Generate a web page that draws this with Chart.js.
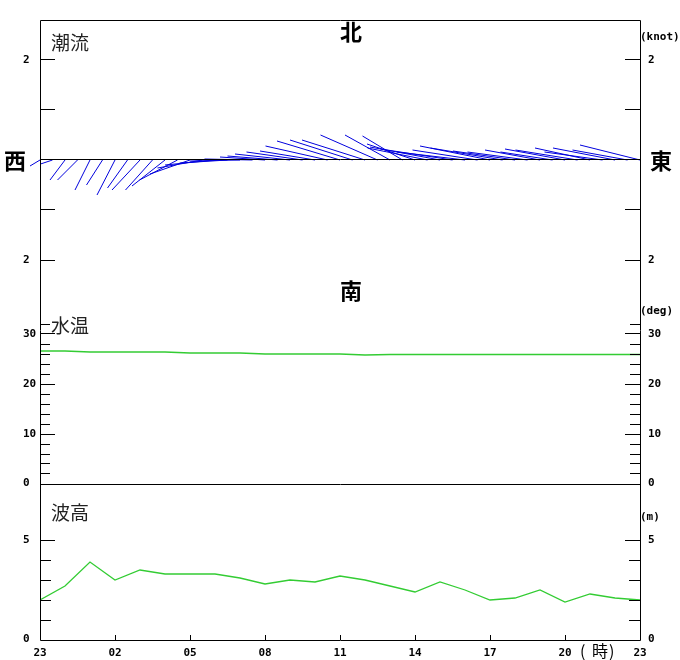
<!DOCTYPE html>
<html><head><meta charset="utf-8">
<script src="https://cdn.jsdelivr.net/npm/chart.js@4/dist/chart.umd.min.js"></script>
<style>html,body{margin:0;padding:0;background:#fff}#wrap{width:680px;height:660px}</style>
</head><body><div id="wrap"><canvas id="c" width="680" height="660"></canvas></div>
<script>
// ---- data ----
const hourLabels = ['23','00','01','02','03','04','05','06','07','08','09','10','11','12','13','14','15','16','17','18','19','20','21','22','23'];
const waveHeight = [2.0,2.7,3.9,3.0,3.5,3.3,3.3,3.3,3.1,2.8,3.0,2.9,3.2,3.0,2.7,2.4,2.9,2.5,2.0,2.1,2.5,1.9,2.3,2.1,2.0];
const waterTemp  = [26.6,26.6,26.4,26.4,26.4,26.4,26.2,26.2,26.2,26.0,26.0,26.0,26.0,25.8,25.9,25.9,25.9,25.9,25.9,25.9,25.9,25.9,25.9,25.9,25.9];
// tidal current every 30 minutes, east / north components (knot)
const currentEast  = [-0.20,-0.24,-0.30,-0.40,-0.30,-0.32,-0.36,-0.40,-0.56,-0.54,-0.66,-0.76,-0.80,-0.90,-1.00,-0.96,-1.00,-0.96,-0.90,-1.00,-1.10,-1.12,-1.10,-1.24,-1.26,-1.25,-1.26,-1.14,-0.90,-0.80,-0.96,-1.20,-1.40,-1.44,-1.36,-1.30,-1.40,-1.44,-1.24,-1.20,-1.10,-1.04,-1.20,-1.24,-1.10,-1.16,-1.24,-1.10,-1.20];
const currentNorth = [-0.12,-0.08,-0.40,-0.40,-0.60,-0.50,-0.70,-0.56,-0.60,-0.60,-0.52,-0.40,-0.28,-0.16,-0.10,-0.06,-0.02,0.02,0.06,0.08,0.12,0.16,0.18,0.28,0.38,0.40,0.40,0.50,0.50,0.48,0.32,0.24,0.26,0.22,0.16,0.20,0.28,0.24,0.18,0.16,0.20,0.16,0.22,0.20,0.24,0.16,0.24,0.20,0.30];
const xTickHours  = [0,3,6,9,12,15,18,21,24];
const xTickLabels = ['23','02','05','08','11','14','17','20','23'];
const currentTicks = [2,1,-1,-2];
const currentTickLabels = ['2','','','2'];
const tempTickLabels = ['0','10','20','30'];
const tempTickValues = [0,10,20,30];
const waveTickLabels = ['0','5'];
const waveTickValues = [0,5];

// ---- build datasets ----
const HOURS_PER_KNOT = 2; // keeps the sticks isotropic (50px per knot both ways)
const stickData = [];
currentEast.forEach((e, i) => {
  const t = i * 0.5;
  stickData.push({x: t, y: 0}, {x: t + e * HOURS_PER_KNOT, y: currentNorth[i]}, {x: t, y: null});
});
const tempData = waterTemp.map((v, i) => ({x: i, y: v}));
const waveData = waveHeight.map((v, i) => ({x: i, y: v}));

const MONO = 'bold 11px "DejaVu Sans Mono"';
const CJK = '"Noto Sans CJK JP"';

const frame = {
  id: 'frame',
  afterDatasetsDraw(chart) {
    const {ctx, chartArea: a, scales: {x, yCur, yTemp, yWave}} = chart;
    const c = v => Math.floor(v) + 0.5;
    ctx.save();
    ctx.strokeStyle = '#000'; ctx.lineWidth = 1;
    const line = (x1, y1, x2, y2) => { ctx.beginPath(); ctx.moveTo(x1, y1); ctx.lineTo(x2, y2); ctx.stroke(); };
    const L = c(a.left), R = c(a.right), T = c(a.top), B = c(a.bottom);
    line(L, T, R, T); line(L, T, L, B); line(R, T, R, B); line(L, B, R, B);
    line(L, c(yTemp.getPixelForValue(0)), R, c(yTemp.getPixelForValue(0)));
    line(L, c(yCur.getPixelForValue(0)), R, c(yCur.getPixelForValue(0)));
    const tick = (py, len) => { const y = c(py); line(a.left, y, a.left + len, y); line(a.right - len, y, a.right, y); };
    ctx.fillStyle = '#000';
    ctx.font = MONO; ctx.textBaseline = 'middle'; ctx.textAlign = 'left';
    const label = (py, s) => { if (!s) return; ctx.fillText(s, 23, py); ctx.fillText(s, 648, py); };
    // current
    currentTicks.forEach((v, i) => { const py = yCur.getPixelForValue(v); tick(py, 15); label(py, currentTickLabels[i]); });
    // temperature
    for (let v = 2; v <= 32; v += 2) tick(yTemp.getPixelForValue(v), v % 10 === 0 ? 15 : 10);
    tempTickValues.forEach((v, i) => label(yTemp.getPixelForValue(v) - (v === 0 ? 1 : 0), tempTickLabels[i]));
    // wave
    for (let v = 1; v <= 5; v++) tick(yWave.getPixelForValue(v), v === 5 ? 15 : 11);
    waveTickValues.forEach((v, i) => label(yWave.getPixelForValue(v) - (v === 0 ? 1 : 0), waveTickLabels[i]));
    // x ticks
    xTickHours.forEach((h, i) => {
      const px = c(x.getPixelForValue(h));
      if (i > 0 && i < xTickHours.length - 1) line(px, a.bottom - 5, px, a.bottom);
      ctx.textAlign = 'center';
      ctx.fillText(xTickLabels[i], x.getPixelForValue(h), 653);
    });
    // units
    ctx.textAlign = 'left';
    ctx.fillText('(knot)', 640, yCur.getPixelForValue(2) - 23);
    ctx.fillText('(deg)', 640, yTemp.getPixelForValue(30) - 23);
    ctx.fillText('(m)', 640, yWave.getPixelForValue(5) - 23);
    // compass
    ctx.font = 'bold 22px ' + CJK; ctx.textAlign = 'center';
    const mid = x.getPixelForValue(12) + 11;
    ctx.fillText('北', mid, 32);
    ctx.fillText('南', mid, 291);
    ctx.fillText('西', 15, yCur.getPixelForValue(0) + 1);
    ctx.fillText('東', 661, yCur.getPixelForValue(0) + 1);
    // panel titles
    ctx.font = '19px ' + CJK; ctx.textAlign = 'left'; ctx.fillStyle = '#222';
    ctx.fillText('潮流', 51, 43);
    ctx.fillText('水温', 51, 326);
    ctx.fillText('波高', 51, 513);
    ctx.font = '16px ' + CJK; ctx.fillStyle = '#000';
    ctx.fillText('(', 580, 651);
    ctx.fillText('時', 592, 651);
    ctx.fillText(')', 609, 651);
    ctx.restore();
  }
};

new Chart(document.getElementById('c'), {
  type: 'line',
  data: {
    datasets: [
      {label: '潮流', data: stickData, yAxisID: 'yCur', borderColor: '#0000dd', borderWidth: 1, pointRadius: 0, spanGaps: false, clip: false, tension: 0},
      {label: '水温', data: tempData, yAxisID: 'yTemp', borderColor: '#33cc33', borderWidth: 1.3, pointRadius: 0, tension: 0},
      {label: '波高', data: waveData, yAxisID: 'yWave', borderColor: '#33cc33', borderWidth: 1.3, pointRadius: 0, tension: 0}
    ]
  },
  options: {
    responsive: false, animation: false, devicePixelRatio: 1,
    layout: {padding: {left: 40, right: 40, top: 20, bottom: 20}},
    plugins: {legend: {display: false}, tooltip: {enabled: false}},
    scales: {
      x: {type: 'linear', min: 0, max: 24, display: false},
      yCur: {type: 'linear', min: -9.6, max: 2.8, display: false},
      yTemp: {type: 'linear', min: -31.2, max: 92.8, display: false},
      yWave: {type: 'linear', min: 0, max: 31, display: false}
    }
  },
  plugins: [frame]
});
</script></body></html>
